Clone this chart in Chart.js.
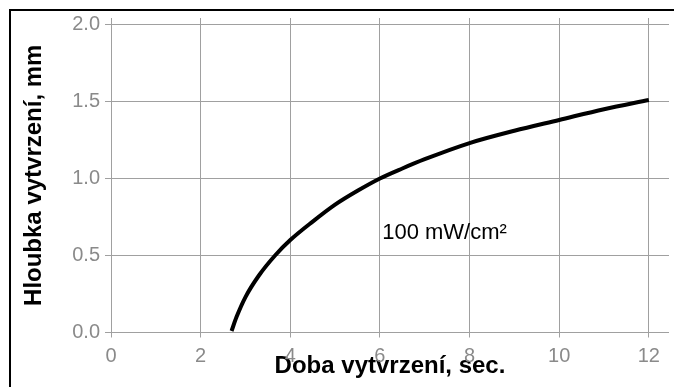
<!DOCTYPE html>
<html>
<head>
<meta charset="utf-8">
<script src="https://cdn.jsdelivr.net/npm/chart.js@4.4.1/dist/chart.umd.min.js"></script>
<style>
  html, body { margin: 0; padding: 0; background: #fff; overflow: hidden; }
  #wrap { position: relative; width: 674px; height: 387px; }
  #frame { position: absolute; left: 9px; top: 9px; width: 700px; height: 420px; border: 2px solid #000; box-sizing: border-box; }
  canvas { position: absolute; left: 0; top: 0; }
</style>
</head>
<body>
<div id="wrap">
  <div id="frame"></div>
  <canvas id="c" width="674" height="387"></canvas>
</div>
<script>
const timeSec = [2.69, 2.8, 3.0, 3.3, 3.66, 4.0, 4.5, 5.0, 5.5, 6.0, 6.5, 7.0, 8.0, 9.0, 10.0, 11.0, 12.0];
const depthMm = [0.01, 0.1, 0.23, 0.37, 0.5, 0.6, 0.72, 0.83, 0.92, 1.0, 1.065, 1.125, 1.23, 1.31, 1.38, 1.45, 1.51];
const xTicks = [0, 2, 4, 6, 8, 10, 12];
const yTicks = [0.0, 0.5, 1.0, 1.5, 2.0];
const curveLabel = "100 mW/cm²";
const labelPos = { x: 6.05, y: 0.605 };
const xTitle = "Doba vytvrzení, sec.";
const yTitle = "Hloubka vytvrzení, mm";

const FONT = "'Liberation Sans', Arial, sans-serif";

const labelPlugin = {
  id: 'curveLabel',
  afterDatasetsDraw(chart) {
    const ctx = chart.ctx;
    const xs = chart.scales.x, ys = chart.scales.y;
    ctx.save();
    ctx.font = "22px " + FONT;
    ctx.fillStyle = "#000";
    ctx.textAlign = "left";
    ctx.textBaseline = "alphabetic";
    ctx.fillText(curveLabel, xs.getPixelForValue(labelPos.x), ys.getPixelForValue(labelPos.y));
    ctx.restore();
  }
};

new Chart(document.getElementById('c'), {
  type: 'line',
  data: {
    datasets: [{
      data: timeSec.map((x, i) => ({ x: x, y: depthMm[i] })),
      borderColor: '#000',
      borderWidth: 4,
      pointRadius: 0,
      fill: false,
      cubicInterpolationMode: 'monotone'
    }]
  },
  options: {
    responsive: false,
    animation: false,
    devicePixelRatio: 1,
    layout: { padding: { left: 0, top: 18, right: 5, bottom: 0 } },
    plugins: { legend: { display: false }, tooltip: { enabled: false } },
    scales: {
      x: {
        type: 'linear',
        min: 0, max: 12.45,
        afterFit(s) { s.height = 54.5; },
        afterBuildTicks(s) { s.ticks = xTicks.map(v => ({ value: v })); },
        ticks: { font: { family: FONT, size: 20 }, color: '#8a8a8a', padding: 7, maxRotation: 0,
                 callback: v => String(v) },
        grid: { color: '#a0a0a0', lineWidth: 1, tickLength: 5, drawTicks: true },
        border: { display: false },
        title: { display: true, text: xTitle, color: '#000',
                 font: { family: FONT, size: 24, weight: 'bold' }, padding: { top: 0, bottom: 6 } }
      },
      y: {
        type: 'linear',
        min: 0, max: 2.042,
        afterFit(s) { s.width = 111; },
        afterBuildTicks(s) { s.ticks = yTicks.map(v => ({ value: v })); },
        ticks: { font: { family: FONT, size: 20 }, color: '#8a8a8a', padding: 5,
                 callback: v => v.toFixed(1) },
        grid: { color: '#a0a0a0', lineWidth: 1, tickLength: 6, drawTicks: true },
        border: { display: false },
        title: { display: true, text: yTitle, color: '#000',
                 font: { family: FONT, size: 24, weight: 'bold' }, padding: { top: 20, bottom: 0 } }
      }
    }
  },
  plugins: [labelPlugin]
});
</script>
</body>
</html>
